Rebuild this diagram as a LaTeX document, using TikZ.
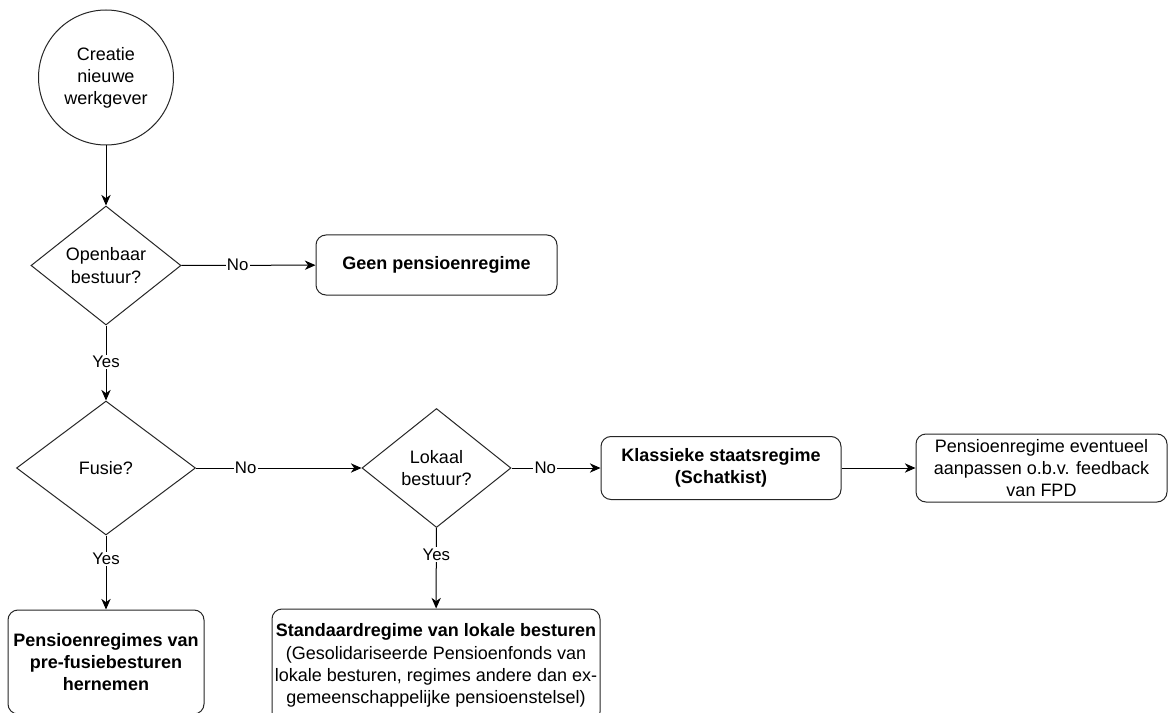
\documentclass[tikz,border=0pt]{standalone}
\usepackage{fontspec}
\setmainfont{Liberation Sans}
\usetikzlibrary{shapes.geometric,arrows.meta}
\begin{document}
\begin{tikzpicture}[x=0.75pt,y=-0.75pt,
  base/.style={draw=black!85,line width=0.75pt,font=\fontsize{13.5}{16.6}\selectfont,align=center,inner sep=0pt},
  startc/.style={base,circle,minimum size=101.25pt},
  dia/.style={base,diamond},
  rbox/.style={base,rectangle,rounded corners=7.5pt},
  conn/.style={draw=black,line width=0.75pt,-{Stealth[length=8pt,width=7pt,inset=2.5pt]}},
  lbl/.style={fill=white,font=\fontsize{12.6}{14}\selectfont,inner sep=1pt}
]
\clip (0,0) rectangle (1168,713);
\fill[white] (0,0) rectangle (1168,713);

\node[startc] (c) at (106,77.5) {Creatie\\nieuwe\\werkgever};
\node[dia,minimum width=112.5pt,minimum height=89.25pt,label={[base,draw=none]center:Openbaar\\bestuur?}] (d1) at (106,265.5) {};
\node[rbox,minimum width=180.75pt,minimum height=45pt] (b1) at (436.5,265) {\bfseries Geen pensioenregime};
\node[dia,minimum width=134.25pt,minimum height=100.5pt,label={[base,draw=none]center:Fusie?}] (d2) at (106,468) {};
\node[dia,minimum width=111.75pt,minimum height=89.25pt,label={[base,draw=none]center:Lokaal\\bestuur?}] (d3) at (436.5,468) {};
\node[rbox,minimum width=180pt,minimum height=47.25pt] (b2) at (721,468) {\bfseries Klassieke staatsregime\\\bfseries(Schatkist)};
\node[rbox,minimum width=188.25pt,minimum height=51pt] (b3) at (1041.5,468) {Pensioenregime eventueel\\aanpassen o.b.v. feedback\\van FPD};
\node[rbox,minimum width=147pt,minimum height=78pt] (b4) at (106,662) {\bfseries Pensioenregimes van\\\bfseries pre-fusiebesturen\\\bfseries hernemen};
\node[rbox,minimum width=246pt,minimum height=84.75pt] (b5) at (436,665.5) {\bfseries Standaardregime van lokale besturen\\(Gesolidariseerde Pensioenfonds van\\lokale besturen, regimes andere dan ex-\\gemeenschappelijke pensioenstelsel)};

\draw[conn] (c) -- (d1);
\draw[conn] (d1) -- node[lbl,pos=0.42] {No} (b1);
\draw[conn] (d1) -- node[lbl,pos=0.49] {Yes} (d2);
\draw[conn] (d2) -- node[lbl,pos=0.3] {No} (d3);
\draw[conn] (d3) -- node[lbl,pos=0.38] {No} (b2);
\draw[conn] (b2) -- (b3);
\draw[conn] (d2) -- node[lbl,pos=0.32] {Yes} (b4);
\draw[conn] (d3) -- node[lbl,pos=0.33] {Yes} (b5);
\end{tikzpicture}
\end{document}
